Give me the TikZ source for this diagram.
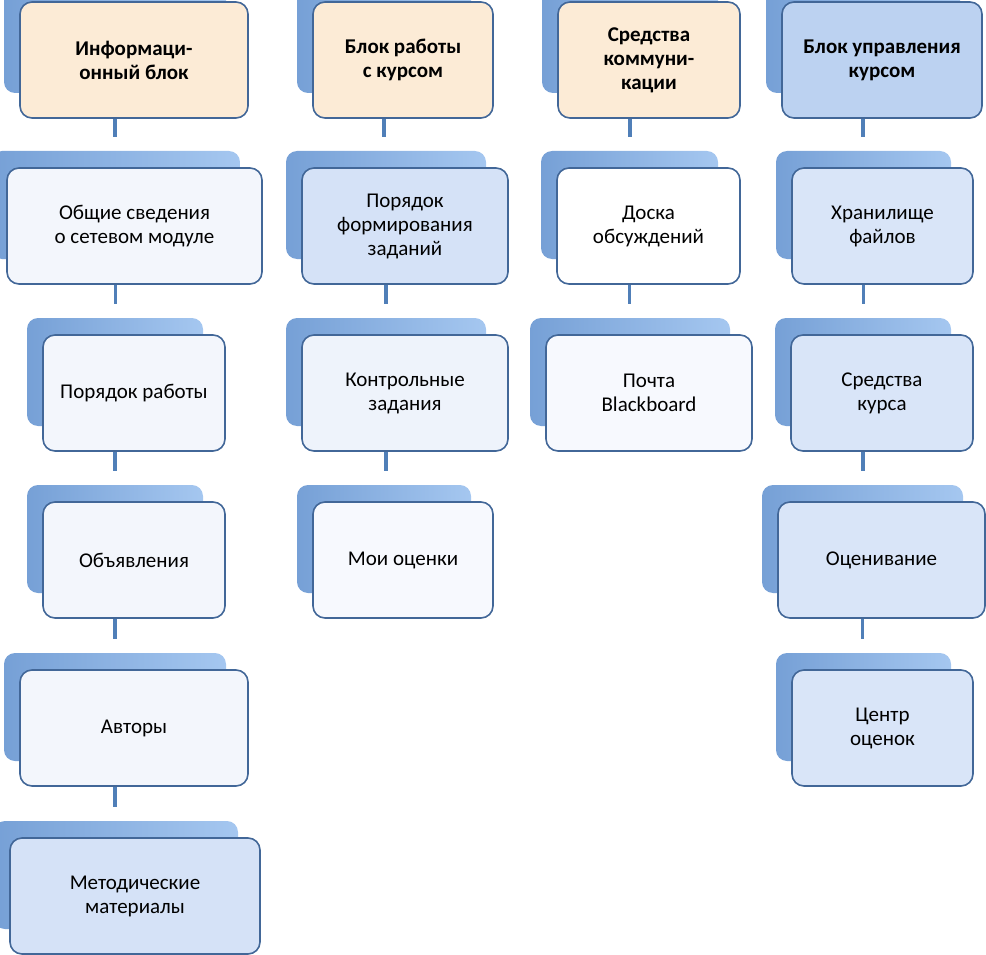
\documentclass[tikz,border=0pt]{standalone}
\usepackage{fontspec}
\setmainfont{Carlito}
\usetikzlibrary{backgrounds,calc}
\definecolor{bordc}{RGB}{66,103,152}
\definecolor{beige}{RGB}{252,235,214}
\definecolor{hblue}{RGB}{188,210,241}
\definecolor{cblue}{RGB}{213,226,247}
\definecolor{cblueb}{RGB}{217,229,248}
\definecolor{cpale}{RGB}{243,246,252}
\definecolor{cpaleb}{RGB}{238,243,251}
\definecolor{cpalec}{RGB}{247,249,254}
\definecolor{shL}{RGB}{118,160,214}
\definecolor{shR}{RGB}{165,199,240}
\definecolor{connc}{RGB}{80,127,184}
\tikzset{
  frontbox/.style={draw=bordc, line width=1.6pt, rounded corners=12pt,
    align=center, font=\fontsize{21}{24}\selectfont, inner sep=0pt,
    minimum height=116pt},
  backbox/.style={rounded corners=11pt, left color=shL, right color=shR,
    minimum height=108pt, inner sep=0pt},
  conn/.style={draw=connc, line width=3.4pt, shorten >=14pt},
  hdr/.style={font=\fontsize{21}{24}\selectfont\bfseries},
  plain/.style={}
}
\newcommand\blk[7]{%
  \node[frontbox, #6, fill=#5, minimum width=#4pt] (#1) at (#2pt,-#3pt) {#7};
  \begin{pgfonlayer}{background}
    \node[backbox, minimum width=#4pt-6pt] (#1s) at ($(#1.center)+(-19pt,21pt)$) {};
  \end{pgfonlayer}
}
\newcommand\lnk[2]{\draw[conn] (#1s.south) -- (#1s.south |- #2s.north);}
\begin{document}
\begin{tikzpicture}
\useasboundingbox (0,0) rectangle (986pt,-955pt);
% column 1
\blk{h1}{134}{60}{228}{beige}{hdr}{Информаци-\\онный блок}
\blk{a1}{134.5}{226}{255}{cpale}{plain}{Общие сведения\\о сетевом модуле}
\blk{a2}{134}{393}{182}{cpale}{plain}{Порядок работы}
\blk{a3}{134}{560}{182}{cpale}{plain}{Объявления}
\blk{a4}{134}{728}{228}{cpale}{plain}{Авторы}
\blk{a5}{135}{896}{250}{cblue}{plain}{Методические\\материалы}
% column 2
\blk{h2}{403}{60}{180}{beige}{hdr}{Блок работы\\с курсом}
\blk{b1}{405}{226}{206}{cblue}{plain}{Порядок\\формирования\\заданий}
\blk{b2}{405}{393}{206}{cpaleb}{plain}{Контрольные\\задания}
\blk{b3}{403}{560}{180}{cpalec}{plain}{Мои оценки}
% column 3
\blk{h3}{649}{60}{182}{beige}{hdr}{Средства\\коммуни-\\кации}
\blk{c1}{648.5}{226}{183}{white}{plain}{Доска\\обсуждений}
\blk{c2}{649}{393}{206}{cpalec}{plain}{Почта\\Blackboard}
% column 4
\blk{h4}{882}{60}{200}{hblue}{hdr}{Блок управления\\курсом}
\blk{d1}{882.5}{226}{181}{cblueb}{plain}{Хранилище\\файлов}
\blk{d2}{882}{393}{182}{cblueb}{plain}{Средства\\курса}
\blk{d3}{881.5}{560}{207}{cblueb}{plain}{Оценивание}
\blk{d4}{882.5}{728}{181}{cblueb}{plain}{Центр\\оценок}
\begin{pgfonlayer}{background}
\lnk{h1}{a1}\lnk{a1}{a2}\lnk{a2}{a3}\lnk{a3}{a4}\lnk{a4}{a5}
\lnk{h2}{b1}\lnk{b1}{b2}\lnk{b2}{b3}
\lnk{h3}{c1}\lnk{c1}{c2}
\lnk{h4}{d1}\lnk{d1}{d2}\lnk{d2}{d3}\lnk{d3}{d4}
\end{pgfonlayer}
\end{tikzpicture}
\end{document}
